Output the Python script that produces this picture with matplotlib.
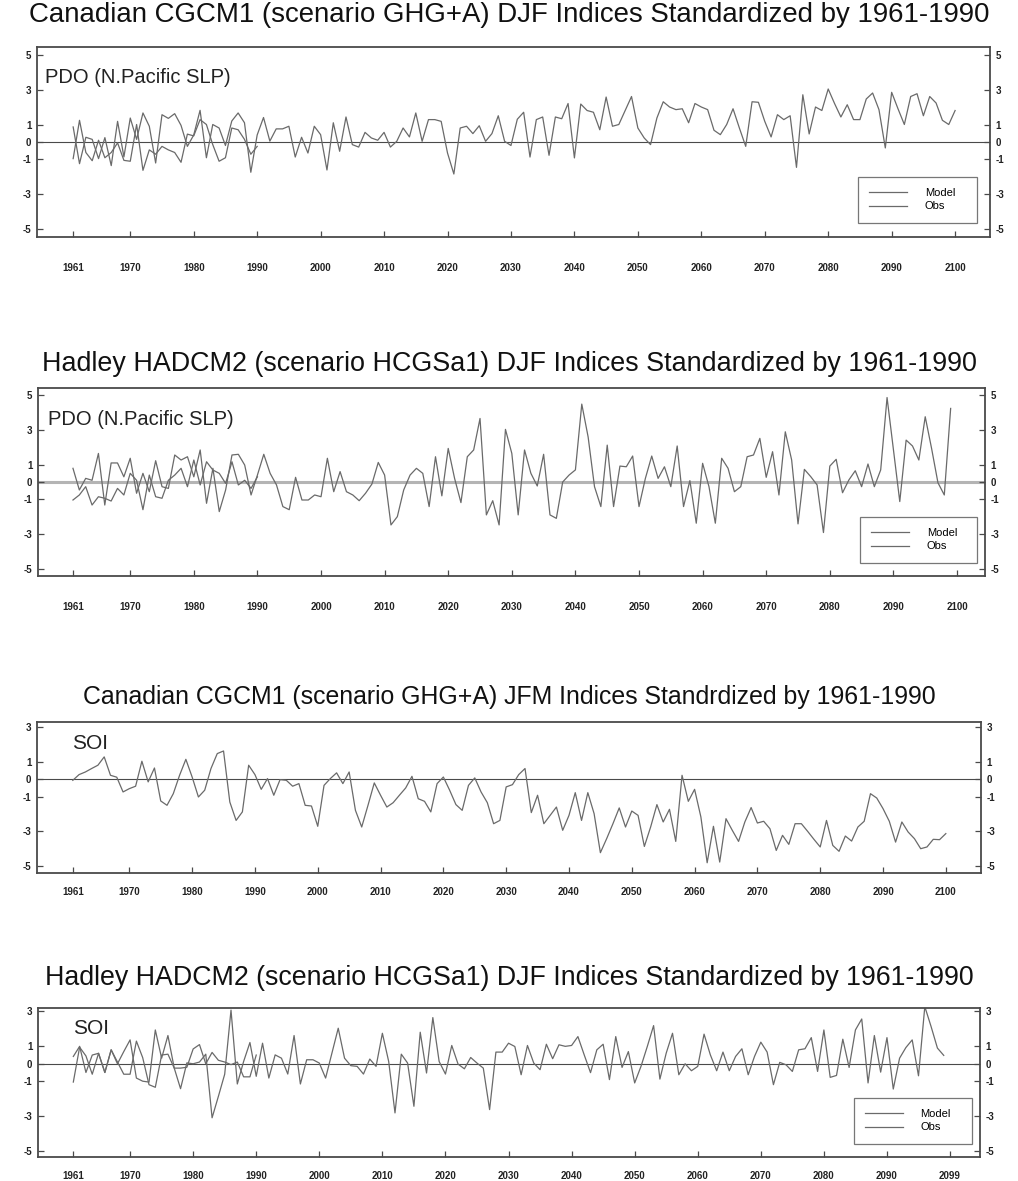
import numpy as np
import matplotlib
matplotlib.use("Agg")
import matplotlib.pyplot as plt

plt.rcParams['font.family'] = ['Liberation Sans', 'DejaVu Sans']

# ---- data ----
years_140 = np.arange(1961, 2101)
years_139 = np.arange(1961, 2100)
years_obs = np.arange(1961, 1991)

# Canadian CGCM1 PDO (DJF)
cgcm_pdo_model = [
    0.86, -1.24, 0.27, 0.15, -0.95, 0.25, -1.35, 1.18, -0.85, 1.37,
    0.15, 1.66, 0.9, -1.2, 1.56, 1.35, 1.62, 0.95, -0.25, 0.4,
    1.81, -0.9, 1.0, 0.8, -0.2, 1.2, 1.66, 1.1, -1.73, 0.4,
    1.4, 0.05, 0.75, 0.75, 0.9, -0.86, 0.27, -0.63, 0.9, 0.42,
    -1.6, 1.1, -0.53, 1.43, -0.15, -0.29, 0.55, 0.23, 0.1, 0.55,
    -0.29, 0.04, 0.8, 0.29, 1.66, 0.04, 1.28, 1.28, 1.18, -0.63,
    -1.83, 0.8, 0.9, 0.48, 0.93, 0.04, 0.48, 1.5, 0.04, -0.2,
    1.3, 1.7, -0.86, 1.28, 1.43, -0.76, 1.43, 1.33, 2.2, -0.91,
    2.17, 1.8, 1.7, 0.7, 2.57, 0.9, 1.0, 1.8, 2.6, 0.8,
    0.23, -0.15, 1.37, 2.3, 2.0, 1.85, 1.9, 1.1, 2.2, 2.0,
    1.85, 0.67, 0.42, 1.0, 1.9, 0.8, -0.25, 2.3, 2.27, 1.18,
    0.29, 1.56, 1.28, 1.5, -1.45, 2.7, 0.46, 2.0, 1.8, 3.03,
    2.2, 1.43, 2.13, 1.28, 1.28, 2.46, 2.8, 1.85, -0.34, 2.84,
    1.9, 1.0, 2.6, 2.76, 1.5, 2.6, 2.23, 1.24, 1.0, 1.8]
cgcm_pdo_obs = [
    -0.95, 1.24, -0.6, -1.07, 0.1, -0.9, -0.6, -0.05, -1.05, -1.1,
    1.0, -1.62, -0.45, -0.7, -0.25, -0.45, -0.6, -1.16, 0.45, 0.35,
    1.28, 1.0, -0.15, -1.1, -0.9, 0.8, 0.7, 0.15, -0.7, -0.25]

# Hadley HADCM2 PDO (DJF)
had_pdo_model = [
    0.79, -0.46, 0.21, 0.1, 1.65, -1.33, 1.1, 1.1, 0.3, 1.37,
    -0.65, 0.5, -0.56, 1.23, -0.27, -0.37, 1.56, 1.27, 1.46, 0.3,
    1.85, -1.23, 0.79, -1.71, -0.46, 1.56, 1.6, 0.98, -0.75, 0.4,
    1.6, 0.5, -0.17, -1.42, -1.6, 0.27, -1.04, -1.04, -0.75, -0.85,
    1.37, -0.56, 0.6, -0.56, -0.75, -1.08, -0.65, -0.12, 1.13, 0.4,
    -2.48, -2.0, -0.46, 0.4, 0.79, 0.5, -1.42, 1.46, -0.8, 1.94,
    0.21, -1.19, 1.46, 1.85, 3.67, -1.9, -1.08, -2.48, 3.04, 1.65,
    -1.9, 1.85, 0.5, -0.23, 1.6, -1.9, -2.1, 0.0, 0.4, 0.7,
    4.5, 2.6, -0.27, -1.42, 2.13, -1.42, 0.92, 0.88, 1.5, -1.42,
    0.21, 1.5, 0.21, 0.88, -0.27, 2.08, -1.42, 0.08, -2.38, 1.08,
    -0.27, -2.38, 1.37, 0.79, -0.56, -0.27, 1.46, 1.56, 2.52, 0.27,
    1.75, -0.75, 2.9, 1.27, -2.42, 0.73, 0.31, -0.17, -2.92, 0.92,
    1.31, -0.62, 0.12, 0.65, -0.27, 1.04, -0.27, 0.7, 4.88, 1.9,
    -1.13, 2.42, 2.08, 1.27, 3.77, 1.94, -0.04, -0.75, 4.25]
had_pdo_obs = [
    -1.04, -0.75, -0.27, -1.33, -0.85, -0.94, -1.1, -0.37, -0.75, 0.5,
    0.1, -1.6, 0.4, -0.85, -0.94, 0.1, 0.4, 0.79, -0.27, 1.27,
    -0.17, 1.17, 0.69, 0.5, -0.08, 1.17, -0.17, 0.1, -0.37, 0.3]

# Canadian CGCM1 SOI (JFM)
cgcm_soi = [
    -0.06, 0.27, 0.42, 0.62, 0.81, 1.29, 0.23, 0.12, -0.73, -0.54,
    -0.4, 1.04, -0.15, 0.65, -1.25, -1.5, -0.83, 0.23, 1.15, 0.13,
    -1.02, -0.63, 0.62, 1.48, 1.63, -1.31, -2.37, -1.88, 0.81, 0.27,
    -0.58, 0.04, -0.92, -0.02, -0.06, -0.4, -0.25, -1.5, -1.54, -2.71,
    -0.35, 0.04, 0.37, -0.25, 0.42, -1.79, -2.75, -1.5, -0.21, -0.92,
    -1.6, -1.35, -0.92, -0.5, 0.17, -1.12, -1.27, -1.88, -0.25, 0.13,
    -0.63, -1.46, -1.79, -0.35, 0.08, -0.73, -1.35, -2.56, -2.37, -0.44,
    -0.31, 0.27, 0.62, -1.92, -0.92, -2.56, -2.08, -1.6, -2.94, -2.08,
    -0.77, -2.37, -0.77, -1.98, -4.23, -3.42, -2.56, -1.65, -2.75, -1.83,
    -2.08, -3.87, -2.75, -1.46, -2.46, -1.73, -3.58, 0.23, -1.27, -0.58,
    -2.17, -4.81, -2.71, -4.77, -2.27, -2.94, -3.58, -2.46, -1.63, -2.52,
    -2.42, -2.85, -4.1, -3.23, -3.75, -2.56, -2.56, -3.0, -3.46, -3.9,
    -2.37, -3.81, -4.15, -3.27, -3.56, -2.75, -2.42, -0.83, -1.08, -1.69,
    -2.42, -3.62, -2.46, -3.04, -3.42, -4.0, -3.9, -3.46, -3.48, -3.13]

# Hadley HADCM2 SOI (DJF)
had_soi_model = [
    -1.05, 0.95, 0.45, -0.6, 0.6, -0.5, 0.8, 0.0, 0.7, 1.37,
    -0.82, -1.0, -1.05, 1.94, 0.32, 1.62, -0.25, -1.43, 0.05, 0.0,
    0.1, 0.55, -3.1, -1.87, -0.6, 3.08, -1.16, 0.13, 1.22, -0.72,
    1.18, -0.82, 0.51, 0.32, -0.59, 1.62, -1.16, 0.23, 0.23, 0.04,
    -0.82, 0.61, 2.04, 0.32, -0.11, -0.15, -0.59, 0.27, -0.15, 1.75,
    0.13, -2.82, 0.55, 0.04, -2.44, 1.81, -0.53, 2.65, 0.13, -0.59,
    1.05, -0.02, -0.29, 0.36, 0.04, -0.25, -2.63, 0.67, 0.67, 1.18,
    0.99, -0.63, 1.05, 0.04, -0.34, 1.12, 0.29, 1.09, 1.0, 1.05,
    1.56, 0.51, -0.51, 0.8, 1.12, -0.91, 1.56, -0.21, 0.7, -1.1,
    -0.15, 0.99, 2.19, -0.88, 0.61, 1.75, -0.63, 0.0, -0.4, -0.15,
    1.7, 0.51, -0.4, 0.67, -0.4, 0.42, 0.86, -0.63, 0.42, 1.24,
    0.67, -1.2, 0.08, -0.06, -0.44, 0.8, 0.86, 1.5, -0.44, 1.94,
    -0.78, -0.67, 1.41, -0.21, 1.94, 2.57, -1.1, 1.62, -0.48, 1.5,
    -1.45, 0.32, 0.93, 1.37, -0.69, 3.28, 2.13, 0.9, 0.48]
had_soi_obs = [
    0.42, 1.0, -0.5, 0.5, 0.6, -0.5, 0.8, 0.1, -0.6, -0.6,
    1.3, 0.35, -1.2, -1.35, 0.5, 0.55, -0.25, -0.25, -0.2, 0.85,
    1.1, 0.0, 0.65, 0.2, 0.1, -0.05, 0.1, -0.75, -0.75, 0.5]

titles = [
    "Canadian CGCM1 (scenario GHG+A) DJF Indices Standardized by 1961-1990",
    "Hadley HADCM2 (scenario HCGSa1) DJF Indices Standardized by 1961-1990",
    "Canadian CGCM1 (scenario GHG+A) JFM Indices Standrdized by 1961-1990",
    "Hadley HADCM2 (scenario HCGSa1) DJF Indices Standardized by 1961-1990",
]
xtick_pos = [1961, 1970, 1980, 1990, 2000, 2010, 2020, 2030, 2040,
             2050, 2060, 2070, 2080, 2090, 2100]
xtick_lab = [str(v) for v in xtick_pos]
xtick_lab_99 = xtick_lab[:-1] + ["2099"]
ytick_pdo = [-5, -3, -1, 0, 1, 3, 5]
ytick_soi = [-5, -3, -1, 0, 1, 3]

LINE = "#6a6a6a"
EDGE = "#4a4a4a"


def panel(fig, rect, x, model, obs, label, yticks, ylim, xlim, xlabels,
          zero_color, zero_lw, legend_box, label_xy, label_size, xpad):
    ax = fig.add_axes(rect)
    ax.axhline(0, color=zero_color, lw=zero_lw, zorder=1)
    ln1, = ax.plot(x, model, color=LINE, lw=0.9, zorder=2)
    if obs is not None:
        ln2, = ax.plot(years_obs, obs, color=LINE, lw=0.9, zorder=2)
    ax.set_xticks(xtick_pos)
    ax.set_xticklabels(xlabels)
    ax.set_yticks(yticks)
    ax.set_yticklabels([str(v) for v in yticks])
    ax.set_xlim(*xlim)
    ax.set_ylim(*ylim)
    ax.tick_params(axis='both', direction='in', length=4, width=0.9,
                   color=EDGE, labelsize=7, labelcolor='#222222')
    ax.tick_params(axis='x', pad=xpad)
    ax.tick_params(axis='y', right=True, labelright=True, pad=4)
    for lab in ax.get_xticklabels() + ax.get_yticklabels():
        lab.set_fontweight('bold')
    for sp in ax.spines.values():
        sp.set_color(EDGE)
        sp.set_linewidth(1.3)
    ax.text(label_xy[0], label_xy[1], label, transform=ax.transAxes,
            fontsize=label_size, color='#222222', va='center', ha='left')
    if legend_box is not None and obs is not None:
        leg = ax.legend([ln1, ln2], ["Model", "Obs"], loc='upper left',
                        bbox_to_anchor=legend_box, mode='expand',
                        fontsize=8, frameon=True, fancybox=False,
                        handlelength=3.4, handletextpad=1.6, borderpad=1.0,
                        labelspacing=0.3, borderaxespad=0)
        leg.get_frame().set_edgecolor('#555555')
        leg.get_frame().set_linewidth(0.9)
    return ax


W, H = 1018, 1181
fig = plt.figure(figsize=(W / 100, H / 100), dpi=100)


def frac(left, top, right, bottom):
    return [left / W, 1 - bottom / H, (right - left) / W, (bottom - top) / H]


# legend boxes: (x0, y_top, width, 0) in axes fraction
panel(fig, frac(37, 47, 990, 237), years_140, cgcm_pdo_model, cgcm_pdo_obs,
      "PDO (N.Pacific SLP)", ytick_pdo, (-5.43, 5.43), (1955.3, 2105.5),
      xtick_lab, EDGE, 0.8, (0.8615, 0.3158, 0.1249, 0), (0.008, 0.84),
      14.5, 18.5)
panel(fig, frac(38, 388, 985, 576), years_139, had_pdo_model, had_pdo_obs,
      "PDO (N.Pacific SLP)", ytick_pdo, (-5.43, 5.43), (1955.5, 2104.4),
      xtick_lab, "#b4b4b4", 2.2, (0.868, 0.314, 0.1236, 0), (0.011, 0.83),
      14.5, 18.5)
panel(fig, frac(37, 722, 981, 873), years_140, cgcm_soi, None,
      "SOI", ytick_soi, (-5.4, 3.3), (1955.3, 2105.6), xtick_lab,
      EDGE, 0.8, None, (0.037, 0.86), 15, 10)
panel(fig, frac(38, 1008, 980, 1157), years_139, had_soi_model, had_soi_obs,
      "SOI", ytick_soi, (-5.35, 3.2), (1955.4, 2104.75), xtick_lab_99,
      EDGE, 0.8, (0.866, 0.396, 0.1253, 0), (0.037, 0.86), 15, 10)

title_y = [15, 364, 697, 978]
title_size = [19.9, 19.4, 17.9, 19.3]
for t, ty, ts in zip(titles, title_y, title_size):
    fig.text(0.5, 1 - ty / H, t, ha='center', va='center', fontsize=ts,
             color='#111111')

fig.savefig("out.png", dpi=100)
